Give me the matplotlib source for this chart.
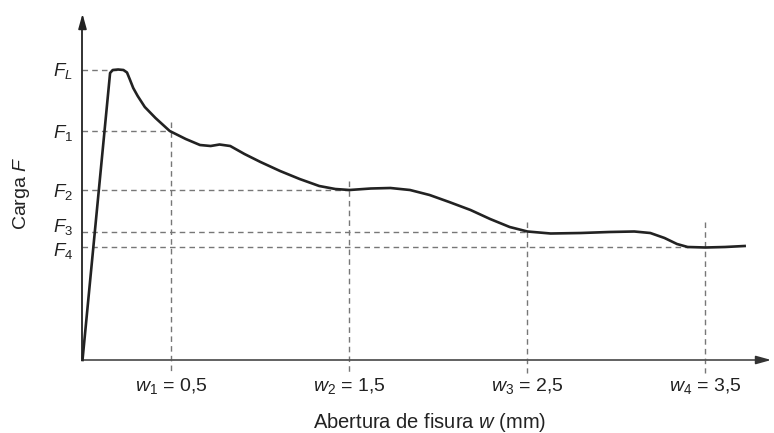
import numpy as np
import matplotlib
matplotlib.use("Agg")
import matplotlib.pyplot as plt

plt.rcParams["font.family"] = ["Liberation Sans", "DejaVu Sans"]
plt.rcParams["mathtext.fontset"] = "custom"
plt.rcParams["mathtext.rm"] = "Liberation Sans"
plt.rcParams["mathtext.it"] = "Liberation Sans:italic"

# Curve: crack opening w [mm] vs load F [arbitrary units]
w_curve = [0.00, 0.155, 0.17, 0.20, 0.23, 0.25, 0.265, 0.285, 0.31, 0.35, 0.41,
           0.49, 0.58, 0.66, 0.72, 0.77, 0.83, 0.91, 1.00, 1.11, 1.22, 1.33,
           1.42, 1.50, 1.62, 1.73, 1.84, 1.95, 2.06, 2.18, 2.29, 2.40, 2.50,
           2.63, 2.80, 2.96, 3.10, 3.19, 3.27, 3.34, 3.40, 3.50, 3.61, 3.72]
F_curve = [0.00, 2.87, 2.90, 2.905, 2.90, 2.875, 2.81, 2.72, 2.64, 2.53, 2.42,
           2.29, 2.21, 2.15, 2.14, 2.155, 2.14, 2.06, 1.98, 1.89, 1.81, 1.74,
           1.71, 1.70, 1.715, 1.72, 1.70, 1.65, 1.58, 1.50, 1.41, 1.33, 1.285,
           1.265, 1.27, 1.28, 1.285, 1.27, 1.22, 1.16, 1.13, 1.125, 1.13, 1.14]

# Reference levels and the w value where each horizontal guide stops
F_levels = [2.905, 2.29, 1.70, 1.285, 1.13]
F_names = ["$F_L$", "$F_1$", "$F_2$", "$F_3$", "$F_4$"]
F_label_base = [2.84, 2.22, 1.63, 1.28, 1.04]
F_guide_end = [0.20, 0.50, 1.50, 2.50, 3.40]

# Crack openings marked on the w axis
w_marks = [0.5, 1.5, 2.5, 3.5]
w_labels = ["$w_1$ = 0,5", "$w_2$ = 1,5", "$w_3$ = 2,5", "$w_4$ = 3,5"]
w_guide_top = [2.38, 1.79, 1.38, 1.38]

fig = plt.figure(figsize=(7.74, 4.33), dpi=100)
ax = fig.add_axes([0, 0, 1, 1])
ax.set_xlim(-0.4635, 3.885)
ax.set_ylim(-0.73, 3.60)
ax.axis("off")

dash_kw = dict(color="#777777", linestyle=(0, (4, 3)), linewidth=1.0, zorder=1)

# horizontal guides
for F, x_end in zip(F_levels, F_guide_end):
    ax.plot([0, x_end], [F, F], **dash_kw)

# vertical guides
for w, top in zip(w_marks, w_guide_top):
    ax.plot([w, w], [top, -0.13], **dash_kw)

# axes with arrows
ax.plot([0, 0], [0, 3.40], color="#222222", linewidth=1.3, zorder=2)
ax.plot([0, 3.80], [0, 0], color="#555555", linewidth=1.3, zorder=2)
ax.annotate("", xy=(0, 3.49), xytext=(0, 3.35),
            arrowprops=dict(arrowstyle="-|>,head_width=0.25,head_length=0.9",
                            color="#222222", lw=1.2))
ax.annotate("", xy=(3.885, 0), xytext=(3.78, 0),
            arrowprops=dict(arrowstyle="-|>,head_width=0.25,head_length=0.9",
                            color="#333333", lw=1.2))

# load curve
ax.plot(w_curve, F_curve, color="#222222", linewidth=1.9,
        solid_joinstyle="round", zorder=3)

# labels
for yb, name in zip(F_label_base, F_names):
    ax.text(-0.168, yb, name, ha="left", va="baseline", fontsize=13.5,
            color="#222222")

for w, lbl in zip(w_marks, w_labels):
    ax.text(w, -0.26, lbl, ha="center", va="center", fontsize=14, color="#222222")

ax.text(1.95, -0.62, "Abertura de fisura $w$ (mm)", ha="center", va="center",
        fontsize=14.5, color="#222222")
ax.text(-0.345, 1.67, "Carga $F$", ha="center", va="center", rotation=90,
        fontsize=14, color="#222222")

fig.savefig("out.png", dpi=100)
